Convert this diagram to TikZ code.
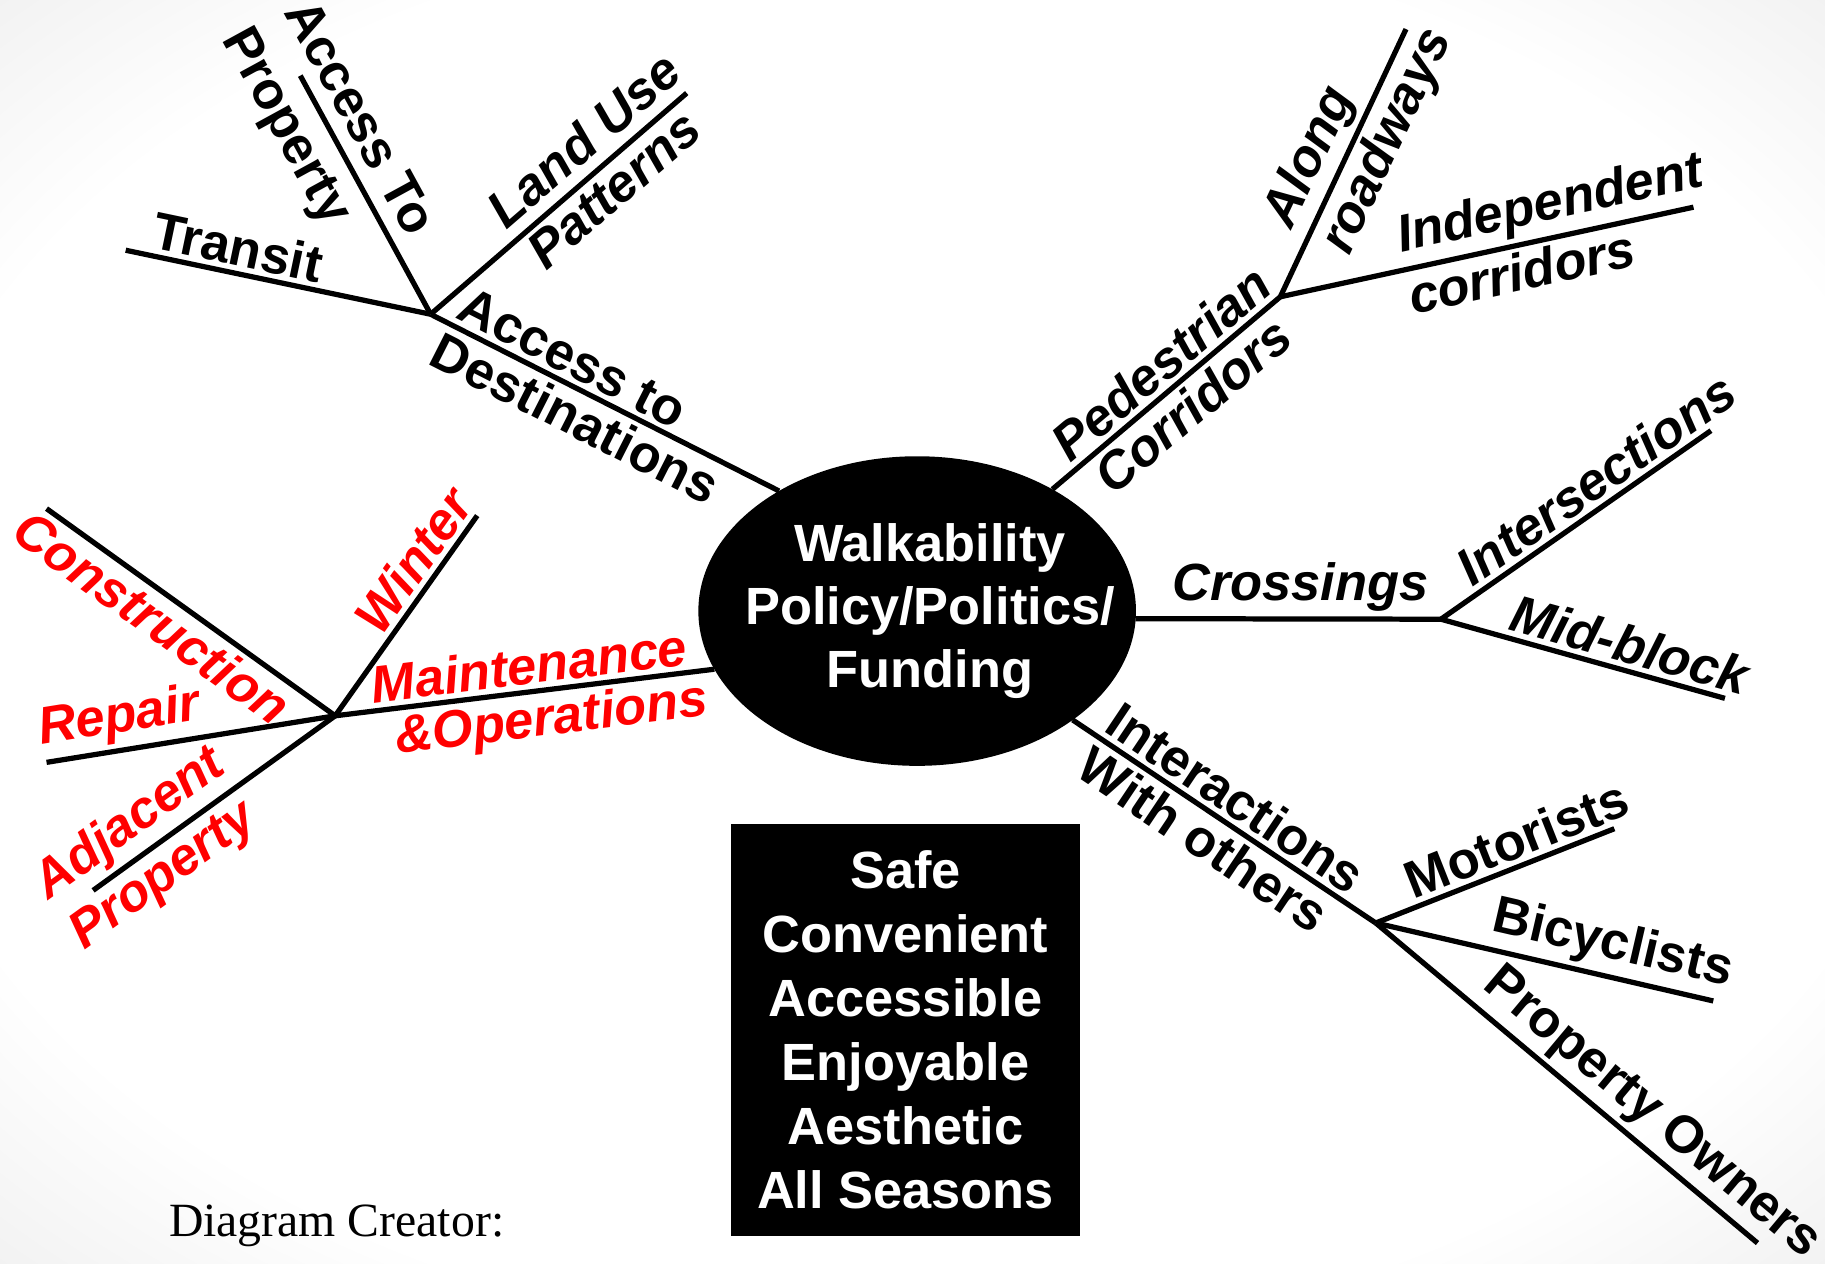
\documentclass[tikz,border=0pt]{standalone}
\usepackage{fontspec}
\setmainfont{Liberation Sans}
\newfontfamily\creditfont{Liberation Serif}
\usetikzlibrary{shapes.geometric}
\pgfdeclareradialshading{bgglow}{\pgfpoint{0bp}{0bp}}{color(0bp)=(white); color(28bp)=(white); color(50bp)=(black!15); color(71bp)=(black!22)}

\begin{document}
\begin{tikzpicture}[x=1pt,y=-1pt,
  branch/.style={line width=4.5pt},
  lbl/.style={sloped,inner sep=4pt,font=\fontsize{45}{54}\selectfont\bfseries},
  ilbl/.style={lbl,font=\fontsize{45}{54}\selectfont\bfseries\itshape},
  redlbl/.style={ilbl,text=red}]
\useasboundingbox (0,0) rectangle (1568,1086);
\shade[shading=bgglow] (0,0) rectangle (1568,1086);

% centre and goal box
\node[ellipse,fill=black,minimum width=376,minimum height=266,inner sep=0,outer sep=0] (root) at (788,525) {};
\node[text=white,align=center,font=\fontsize{45}{54}\selectfont\bfseries,xshift=11] (rootText) at (root) {Walkability\\Policy/Politics/\\Funding};
\node[fill=black,minimum width=300,minimum height=354,text=white,align=center,font=\fontsize{45}{55}\selectfont\bfseries] (goals) at (778,885) {Safe\\Convenient\\Accessible\\Enjoyable\\Aesthetic\\All Seasons};
\node[anchor=base west,inner sep=0,font=\creditfont\fontsize{41}{45}\selectfont] (credit) at (145,1062) {Diagram Creator:};

% hubs and leaf ends
\coordinate (hubA) at (370,270);
\coordinate (transitEnd) at (108,215);
\coordinate (propEnd) at (258,65);
\coordinate (landEnd) at (590,80);
\coordinate (hubB) at (1100,255);
\coordinate (alongEnd) at (1208,25);
\coordinate (indepEnd) at (1455,178);
\coordinate (hubC) at (1238,532);
\coordinate (interEnd) at (1470,370);
\coordinate (midEnd) at (1482,600);
\coordinate (hubD) at (1182,793);
\coordinate (motorEnd) at (1387,712);
\coordinate (bikeEnd) at (1472,860);
\coordinate (ownerEnd) at (1510,1068);
\coordinate (hubE) at (288,615);
\coordinate (winterEnd) at (410,443);
\coordinate (constrEnd) at (40,437);
\coordinate (repairEnd) at (40,655);
\coordinate (adjEnd) at (80,765);

% access to destinations
\draw[branch] (hubA) -- node[lbl,pos=.375,above] {Access to} node[lbl,pos=.45,below] {Destinations} (root.139);
\draw[branch] (hubA) -- node[lbl,pos=.65,above] {Transit} (transitEnd);
\draw[branch] (hubA) -- node[lbl,pos=.76,above=7] {Access To} node[lbl,pos=.86,below=7] {Property} (propEnd);
\draw[branch] (hubA) -- node[ilbl,pos=.68,above=5] {Land Use} node[ilbl,pos=.65,below] {Patterns} (landEnd);

% pedestrian corridors
\draw[branch] (root.42) -- node[ilbl,pos=.55,above] {Pedestrian} node[ilbl,pos=.54,below] {Corridors} (hubB);
\draw[branch] (hubB) -- node[ilbl,pos=.47,above] {Along} node[ilbl,pos=.63,below] {roadways} (alongEnd);
\draw[branch] (hubB) -- node[ilbl,pos=.67,above] {Independent} node[ilbl,pos=.57,below] {corridors} (indepEnd);

% crossings
\draw[branch] (root.-2) -- node[ilbl,pos=.54,above] {Crossings} (hubC);
\draw[branch] (hubC) -- node[ilbl,pos=.63,above] {Intersections} (interEnd);
\draw[branch] (hubC) -- node[ilbl,pos=.64,above] {Mid-block} (midEnd);

% interactions
\draw[branch] (root.-35) -- node[lbl,pos=.49,above] {Interactions} node[lbl,pos=.48,below] {With others} (hubD);
\draw[branch] (hubD) -- node[lbl,pos=.63,above] {Motorists} (motorEnd);
\draw[branch] (hubD) -- node[lbl,pos=.68,above] {Bicyclists} (bikeEnd);
\draw[branch] (hubD) -- node[lbl,pos=.67,above] {Property Owners} (ownerEnd);

% maintenance and operations
\draw[branch] (root.196) -- node[redlbl,pos=.48,above] {Maintenance} node[redlbl,pos=.44,below] {\&Operations} (hubE);
\draw[branch] (hubE) -- node[redlbl,pos=.70,above] {Winter} (winterEnd);
\draw[branch] (hubE) -- node[redlbl,pos=.58,below] {Construction} (constrEnd);
\draw[branch] (hubE) -- node[redlbl,pos=.73,above] {Repair} (repairEnd);
\draw[branch] (hubE) -- node[redlbl,pos=.77,above] {Adjacent} node[redlbl,pos=.78,below] {Property} (adjEnd);
\end{tikzpicture}
\end{document}
